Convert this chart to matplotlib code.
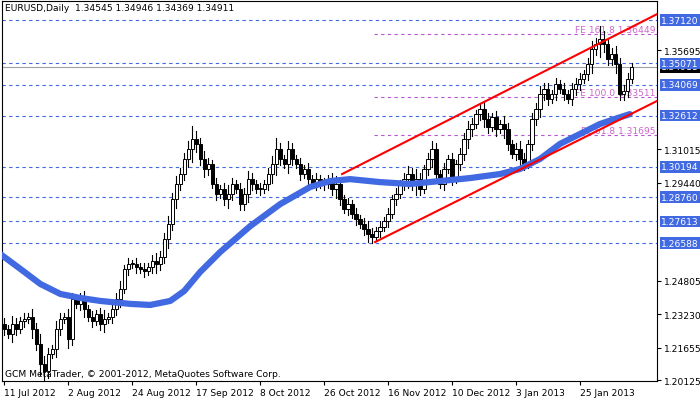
import matplotlib
matplotlib.use("Agg")
import matplotlib.pyplot as plt
from matplotlib.patches import Rectangle

closes = [1.2253,1.2230,1.2277,1.2253,1.2291,1.2301,1.2310,1.2253,1.2182,1.2087,1.2054,1.2135,1.2159,1.2253,1.2301,1.2310,
          1.2206,1.2395,1.2371,1.2395,1.2348,1.2310,1.2291,1.2324,1.2277,1.2301,1.2310,1.2348,1.2395,1.2442,1.2537,1.2560,
          1.2560,1.2546,1.2537,1.2527,1.2546,1.2574,1.2560,1.2593,1.2678,1.2749,1.2867,1.2938,1.2985,1.3056,1.3103,1.3150,
          1.3127,1.3056,1.3009,1.3032,1.2938,1.2891,1.2914,1.2867,1.2891,1.2938,1.2914,1.2843,1.2891,1.2961,1.2938,1.2914,
          1.2914,1.2938,1.2985,1.3032,1.3103,1.3056,1.3032,1.3103,1.3056,1.3032,1.2985,1.3009,1.2961,1.2938,1.2961,1.2938,
          1.2938,1.2961,1.2914,1.2938,1.2867,1.2820,1.2843,1.2796,1.2773,1.2749,1.2725,1.2702,1.2688,1.2716,1.2735,1.2763,
          1.2796,1.2867,1.2891,1.2938,1.2961,1.2985,1.2938,1.2961,1.2914,1.3009,1.3056,1.3103,1.2985,1.2938,1.3009,1.3056,
          1.2961,1.3032,1.3079,1.3150,1.3197,1.3221,1.3268,1.3292,1.3245,1.3207,1.3254,1.3197,1.3221,1.3197,1.3127,1.3079,
          1.3103,1.3056,1.3032,1.3127,1.3245,1.3292,1.3363,1.3386,1.3339,1.3363,1.3410,1.3386,1.3363,1.3339,1.3386,1.3410,
          1.3433,1.3457,1.3504,1.3575,1.3599,1.3622,1.3599,1.3528,1.3551,1.3504,1.3363,1.3377,1.3433,1.3491]
wick = [3,2,4,3,2,3,2,4,3,5,4,3,2,4,3,2,4,3,2,3,4,2,3,2,3,4,2,3,3,4,2,3,
        2,3,2,3,2,3,4,3,3,4,3,4,3,3,4,6,4,3,4,3,2,3,2,3,4,3,2,3,3,4,3,2,
        3,2,3,4,5,3,2,4,3,2,3,2,3,2,3,2,3,2,3,4,3,2,3,2,3,2,3,4,3,2,3,2,
        3,2,3,2,3,4,3,5,3,2,3,4,3,2,3,2,3,2,3,3,4,3,2,3,4,3,2,3,2,4,3,2,
        3,4,3,2,3,3,4,3,3,2,3,2,3,2,3,3,3,2,3,4,3,6,4,3,3,4,3,3,3,2]
first_open = 1.2277

ma_idx = [-1, 4, 9, 14, 19, 24, 31.5, 36.5, 41.5, 45, 49, 54, 61.5, 69, 76.5, 81.5, 86.5, 94, 101.5,
          109, 116.5, 124, 129, 134, 139, 144, 149, 152.75, 156.5]
ma_val = [1.2607,1.2537,1.2466,1.2419,1.2400,1.2386,1.2372,1.2367,1.2386,1.2433,1.2523,1.2617,1.2739,
          1.2843,1.2924,1.2952,1.2961,1.2947,1.2938,1.2952,1.2966,1.2985,1.3009,1.3056,1.3127,1.3174,
          1.3221,1.3245,1.3268]

chan_up = ([84.5, 163.3], [1.2985, 1.3740])
chan_lo = ([92.75, 163.3], [1.2664, 1.3330])

hlevels = [1.37120, 1.35071, 1.34069, 1.32612, 1.30194, 1.28760, 1.27613, 1.26588]
ticks = [1.35695, 1.31015, 1.29440, 1.24805, 1.23230, 1.21655, 1.20125]
fibs = [(1.36449, "FE 161.8 1.36449"), (1.33511, "FE 100.0 1.33511"), (1.31695, "FE 61.8 1.31695")]
last_price = 1.34911
xlabels = ["11 Jul 2012","2 Aug 2012","24 Aug 2012","17 Sep 2012","8 Oct 2012","26 Oct 2012",
           "16 Nov 2012","10 Dec 2012","3 Jan 2013","25 Jan 2013"]

fig = plt.figure(figsize=(7, 4.02), dpi=100)
ax = fig.add_axes([2/700, 20/402, 655/700, 380/402])
ax.set_xlim(-0.6, 163.3)
ax.set_ylim(1.2008, 1.3802)
fs = 6.6

for lv in hlevels:
    ax.axhline(lv, color="#4169E1", lw=0.8, ls=(0, (3, 3)), zorder=1)
for lv, t in fibs:
    ax.plot([92.5, 163.3], [lv, lv], color="#BA55D3", lw=0.8, ls=(0, (3, 3)), zorder=1)
    ax.text(162.8, lv, t, color="#CC66CC", fontsize=fs, ha="right", va="bottom", zorder=2)
ax.axhline(last_price, color="#A0A0A0", lw=0.8, zorder=1)

prev = first_open
for i, c in enumerate(closes):
    o = prev
    w = wick[i] * 0.001
    hi, lo = max(o, c) + w, min(o, c) - w
    ax.plot([i, i], [lo, hi], color="black", lw=0.8, zorder=3)
    bull = c >= o
    ax.add_patch(Rectangle((i - 0.4, min(o, c)), 0.8, max(abs(c - o), 0.0003),
                           facecolor="white" if bull else "black", edgecolor="black", lw=0.7, zorder=4))
    prev = c

ax.plot(ma_idx, ma_val, color="#4169E1", lw=4.5, solid_capstyle="round", solid_joinstyle="round", zorder=5)
ax.plot(*chan_up, color="#FF0000", lw=1.5, zorder=6)
ax.plot(*chan_lo, color="#FF0000", lw=1.5, zorder=6)

ax.set_xticks([16 * k for k in range(10)])
ax.set_xticklabels(xlabels, fontsize=fs)
for lab in ax.get_xticklabels():
    lab.set_horizontalalignment("left")
ax.yaxis.tick_right()
ax.set_yticks(ticks)
ax.set_yticklabels([f"{t:.5f}" for t in ticks], fontsize=fs)
ax.tick_params(length=3, width=0.8, pad=2)
ax.text(1.006, last_price, f"{last_price:.5f}", transform=ax.get_yaxis_transform(), fontsize=fs, color="white",
        va="center", ha="left", bbox=dict(boxstyle="square,pad=0.15", fc="black", ec="none"), clip_on=False, zorder=0)
for lv in hlevels:
    ax.text(1.006, lv, f"{lv:.5f}", transform=ax.get_yaxis_transform(), fontsize=fs, color="white",
            va="center", ha="left", bbox=dict(boxstyle="square,pad=0.15", fc="#4169E1", ec="none"), clip_on=False)
for s in ax.spines.values():
    s.set_linewidth(0.8)

ax.text(0.004, 0.995, "EURUSD,Daily  1.34545 1.34946 1.34369 1.34911", transform=ax.transAxes,
        fontsize=fs, va="top", ha="left")
ax.text(0.004, 0.008, "GCM MetaTrader, © 2001-2012, MetaQuotes Software Corp.", transform=ax.transAxes,
        fontsize=fs, va="bottom", ha="left")
fig.savefig("out.png", dpi=100)
